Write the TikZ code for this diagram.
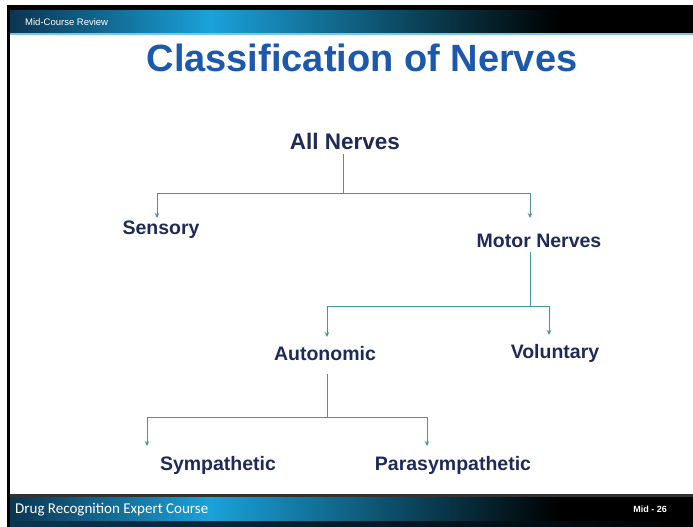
\documentclass[tikz,border=0pt]{standalone}
\usepackage{fontspec}
\setmainfont{Liberation Sans}
\newfontfamily\bandfont{Carlito}
\usepackage{xcolor}
\usetikzlibrary{arrows.meta}
\definecolor{navy}{HTML}{1E2B58}
\definecolor{ttlblue}{HTML}{1B58AE}
\definecolor{teal}{HTML}{3C9AA6}
\definecolor{bandmid}{HTML}{1AA2DA}
\definecolor{banddark}{HTML}{0B3550}
\tikzset{
  lvl/.style={font=\bfseries\fontsize{19.5}{22}\selectfont,text=navy,inner sep=1pt},
  root/.style={font=\bfseries\fontsize{22.5}{25}\selectfont,text=navy,inner sep=1pt},
  link/.style={teal,line width=0.9pt},
  arr/.style={link,-{Stealth[length=5pt,width=4.5pt]}},
  band/.style={white,font=\fontsize{9.5}{10}\selectfont,inner sep=0pt}
}
\begin{document}
\begin{tikzpicture}[x=1pt,y=-1pt]
\useasboundingbox (0,0) rectangle (693,527);
\fill[white] (0,0) rectangle (693,527);
% header and footer bands
\fill[black] (7,5) rectangle (693,11);
\shade[left color=banddark,right color=bandmid] (10,11) rectangle (210,33);
\shade[left color=bandmid,right color=black] (210,11) rectangle (560,33);
\fill[black] (560,11) rectangle (693,33);
\fill[bandmid!60!white] (10,33) rectangle (693,35);
\fill[black!80] (10,494) rectangle (693,497);
\shade[left color=banddark,right color=bandmid] (10,497) rectangle (210,521);
\shade[left color=bandmid,right color=black] (210,497) rectangle (560,521);
\fill[black] (560,497) rectangle (693,521);
\shade[left color=banddark,right color=black] (10,521) rectangle (693,527);
\fill[black] (7,5) rectangle (10,527);
\node[band,anchor=west] (hdr) at (25,22) {Mid-Course Review};
\node[band,anchor=west,font=\bandfont\fontsize{15}{16}\selectfont] (ftr) at (15,510) {Drug Recognition Expert Course};
\node[band,anchor=east,font=\bfseries\fontsize{9}{10}\selectfont] (pg) at (667,509) {Mid - 26};
% title
\node[font=\bfseries\fontsize{38}{42}\selectfont,text=ttlblue] (title) at (362,58) {Classification of Nerves};
% tree
\node[root] (all) at (345,141) {All Nerves};
\node[lvl] (sens) at (161,230) {Sensory};
\node[lvl] (motor) at (539,241) {Motor Nerves};
\node[lvl] (auto) at (325,354) {Autonomic};
\node[lvl] (vol) at (555,353) {Voluntary};
\node[lvl] (sym) at (218,465) {Sympathetic};
\node[lvl] (para) at (453,465) {Parasympathetic};
\coordinate (j1) at (343,193); \coordinate (e1) at (157,218); \coordinate (e2) at (530,218);
\coordinate (j2) at (530,306); \coordinate (e3) at (327,337); \coordinate (e4) at (549,335);
\coordinate (j3) at (327,417); \coordinate (e5) at (147,446); \coordinate (e6) at (427,446);
\draw[link] ([yshift=-4pt]all.south -| j1) -- (j1);
\draw[arr,teal!60!gray] (j1) -| (e1);
\draw[arr,teal!60!gray] (j1) -| (e2);
\draw[link] ([yshift=-3pt]motor.south -| j2) -- (j2);
\draw[arr] (j2) -| (e3);
\draw[arr] (j2) -| (e4);
\draw[link] ([yshift=-12pt]auto.south -| j3) -- (j3);
\draw[arr] (j3) -| (e5);
\draw[arr] (j3) -| (e6);
\end{tikzpicture}
\end{document}
